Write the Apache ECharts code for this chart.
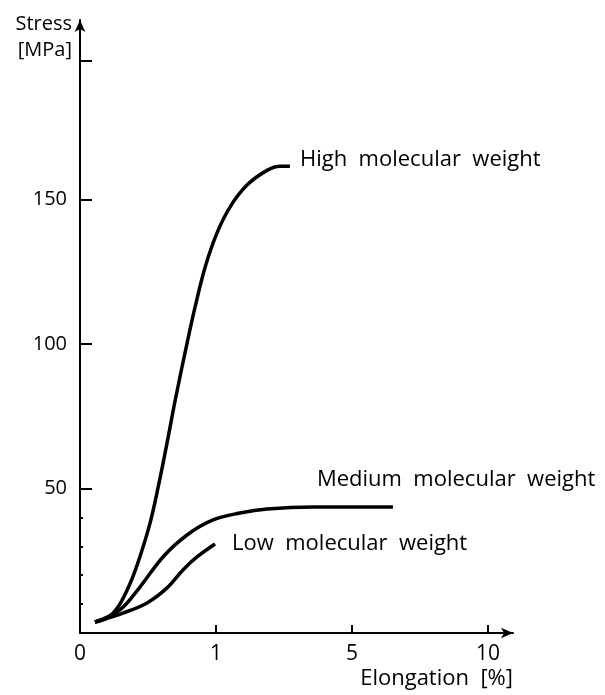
<!DOCTYPE html>
<html>
<head>
<meta charset="utf-8">
<script src="https://cdn.jsdelivr.net/npm/echarts@6.0.0/dist/echarts.min.js"></script>
<style>
  html, body { margin: 0; padding: 0; background: #fff; }
  #chart { width: 605px; height: 695px; }
</style>
</head>
<body>
<div id="chart"></div>
<script>
// x is plotted in axis-step units: 0, 1, 2, 3 stand for 0, 1, 5, 10 % elongation
var xTickLabels = ['0', '1', '5', '10']
var yTickLabels = [50, 100, 150]
var yTicks = [50, 100, 150, 198]
var yMinorTicks = [10, 20, 30, 40]

var highX = [0.11, 0.2, 0.28, 0.37, 0.44, 0.515, 0.575, 0.64, 0.7, 0.787, 0.846, 0.92, 1.007, 1.103, 1.228, 1.375, 1.471, 1.544]
var highY = [3.8, 5.2, 9, 17.3, 26.3, 38, 50.5, 65.7, 80.5, 100.2, 112.7, 126.5, 138.3, 147.3, 154.9, 160, 161.4, 161.4]

var mediumX = [0.11, 0.294, 0.441, 0.61, 0.787, 0.978, 1.176, 1.375, 1.713, 2.301]
var mediumY = [3.8, 8, 15.9, 26.3, 33.9, 39.1, 41.5, 42.9, 43.6, 43.6]

var lowX = [0.11, 0.316, 0.493, 0.64, 0.757, 0.86, 0.993]
var lowY = [3.8, 6.9, 10.4, 15.6, 21.8, 26.3, 30.8]

var font = '"Open Sans", Lato, sans-serif'

function pairs (xs, ys) {
  return xs.map(function (x, i) { return [x, ys[i]] })
}

function curve (name, xs, ys, offset) {
  return {
    name: name,
    type: 'line',
    smooth: 0.35,
    symbol: 'none',
    lineStyle: { color: '#000', width: 3.5 },
    data: pairs(xs, ys),
    endLabel: {
      show: true,
      formatter: '{a}',
      color: '#000',
      fontFamily: font,
      fontSize: 22,
      align: 'left',
      offset: offset
    }
  }
}

var myChart = echarts.init(document.getElementById('chart'))
myChart.setOption({
  animation: false,
  grid: { left: 80, right: 92, top: 20, bottom: 62 },
  xAxis: {
    type: 'value',
    min: 0,
    max: 3.184,
    name: 'Elongation  [%]',
    nameLocation: 'end',
    nameGap: 0,
    nameTextStyle: {
      color: '#000', fontFamily: font, fontSize: 22,
      align: 'right', verticalAlign: 'top', padding: [35, 0, 0, 0]
    },
    splitLine: { show: false },
    axisLine: {
      lineStyle: { color: '#000', width: 2 },
      symbol: ['none', 'arrow'],
      symbolSize: [8, 12]
    },
    axisTick: {
      inside: true,
      length: 8,
      customValues: [1, 2, 3],
      lineStyle: { color: '#000', width: 2 }
    },
    axisLabel: {
      customValues: [0, 1, 2, 3],
      formatter: function (v) { return xTickLabels[Math.round(v)] },
      color: '#000',
      fontFamily: font,
      fontSize: 21,
      margin: 11
    }
  },
  yAxis: [{
    type: 'value',
    min: 0,
    max: 212,
    name: 'Stress\n[MPa]',
    nameLocation: 'end',
    nameGap: 9,
    nameTextStyle: {
      color: '#000', fontFamily: font, fontSize: 20, lineHeight: 26,
      align: 'right', verticalAlign: 'top', padding: [0, 8, 0, 0]
    },
    splitLine: { show: false },
    axisLine: {
      lineStyle: { color: '#000', width: 2 },
      symbol: ['none', 'arrow'],
      symbolSize: [8, 12]
    },
    axisTick: {
      inside: true,
      length: 12,
      customValues: yTicks,
      lineStyle: { color: '#000', width: 2 }
    },
    axisLabel: {
      customValues: yTickLabels,
      color: '#000',
      fontFamily: font,
      fontSize: 20,
      margin: 13
    }
  }, {
    // small dots on the axis below 50
    type: 'value',
    min: 0,
    max: 212,
    position: 'left',
    splitLine: { show: false },
    axisLine: { show: false },
    axisLabel: { show: false },
    axisTick: {
      inside: true,
      length: 3,
      customValues: yMinorTicks,
      lineStyle: { color: '#000', width: 2 }
    }
  }],
  series: [
    curve('High  molecular  weight', highX, highY, [2, -7]),
    curve('Medium  molecular  weight', mediumX, mediumY, [-84, -27]),
    curve('Low  molecular  weight', lowX, lowY, [9, 0])
  ]
})
</script>
</body>
</html>
